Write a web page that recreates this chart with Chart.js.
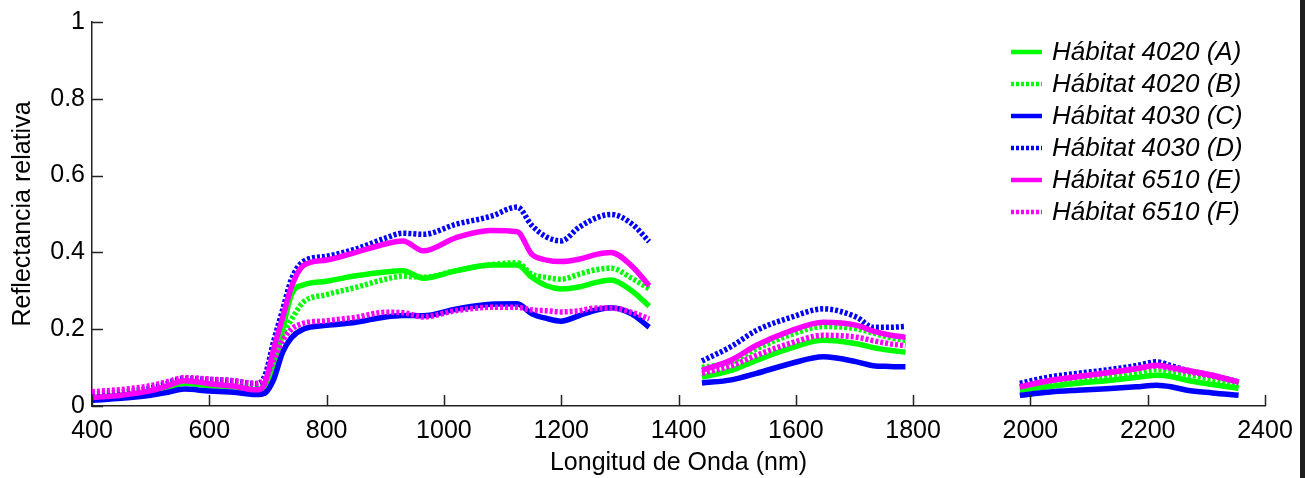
<!DOCTYPE html>
<html lang="es">
<head>
    <meta charset="UTF-8">
    <title>Reflectancia relativa por hábitat</title>
    <script src="https://cdn.jsdelivr.net/npm/chart.js"></script>
    <style>
        * { margin: 0; padding: 0; box-sizing: border-box; }
        body { background: #fff; width: 1305px; height: 478px; overflow: hidden; position: relative; }
        #wrap { position: absolute; left: 0; top: 0; width: 1305px; height: 478px; }
        .edge { position: absolute; left: 1300px; top: 0; width: 5px; height: 478px; background: #1e1e1e; }
    </style>
</head>
<body>
    <div id="wrap"><canvas id="espectro" width="1305" height="478"></canvas></div>
    <div class="edge"></div>

    <script>
        // longitudes de onda (nm); 1400 y 1900 son huecos (bandas de absorción)
        const wavelengths = [400, 450, 500, 530, 557, 600, 640, 680, 695, 710, 725, 740, 760, 800, 850, 900, 930, 965, 1020, 1080, 1125, 1150, 1175, 1200, 1230, 1260, 1285, 1320, 1350,
            1400,
            1440, 1490, 1533, 1590, 1647, 1704, 1732, 1760, 1787,
            1900,
            1982, 2030, 2080, 2130, 2180, 2216, 2240, 2267, 2310, 2355];

        const habitatA = [0.022, 0.028, 0.037, 0.048, 0.059, 0.053, 0.050, 0.042, 0.050, 0.110, 0.200, 0.290, 0.315, 0.325, 0.339, 0.349, 0.352, 0.333, 0.352, 0.367, 0.367, 0.335, 0.313, 0.305, 0.310, 0.322, 0.328, 0.300, 0.260,
            null,
            0.075, 0.093, 0.119, 0.150, 0.171, 0.162, 0.152, 0.145, 0.140,
            null,
            0.041, 0.050, 0.059, 0.066, 0.074, 0.080, 0.077, 0.067, 0.056, 0.046];
        const habitatB = [0.028, 0.034, 0.045, 0.056, 0.066, 0.062, 0.058, 0.052, 0.060, 0.115, 0.185, 0.225, 0.270, 0.290, 0.309, 0.330, 0.338, 0.335, 0.352, 0.368, 0.373, 0.343, 0.335, 0.330, 0.343, 0.355, 0.359, 0.333, 0.305,
            null,
            0.100, 0.115, 0.149, 0.185, 0.207, 0.201, 0.190, 0.178, 0.171,
            null,
            0.047, 0.058, 0.066, 0.075, 0.085, 0.095, 0.090, 0.082, 0.070, 0.057];
        const habitatC = [0.015, 0.020, 0.028, 0.036, 0.044, 0.039, 0.036, 0.030, 0.034, 0.070, 0.140, 0.178, 0.200, 0.210, 0.218, 0.232, 0.236, 0.235, 0.252, 0.265, 0.266, 0.240, 0.228, 0.221, 0.235, 0.250, 0.256, 0.240, 0.205,
            null,
            0.060, 0.068, 0.085, 0.110, 0.128, 0.115, 0.105, 0.103, 0.102,
            null,
            0.028, 0.036, 0.041, 0.045, 0.050, 0.054, 0.050, 0.041, 0.034, 0.028];
        const habitatD = [0.030, 0.037, 0.047, 0.060, 0.072, 0.069, 0.066, 0.058, 0.080, 0.170, 0.250, 0.330, 0.376, 0.390, 0.409, 0.437, 0.450, 0.447, 0.473, 0.494, 0.518, 0.470, 0.440, 0.430, 0.465, 0.490, 0.499, 0.475, 0.428,
            null,
            0.117, 0.155, 0.197, 0.230, 0.253, 0.231, 0.205, 0.205, 0.207,
            null,
            0.059, 0.075, 0.085, 0.094, 0.105, 0.115, 0.105, 0.093, 0.080, 0.063];
        const habitatE = [0.022, 0.028, 0.040, 0.053, 0.066, 0.058, 0.052, 0.042, 0.060, 0.150, 0.230, 0.310, 0.365, 0.380, 0.400, 0.422, 0.430, 0.404, 0.438, 0.457, 0.454, 0.395, 0.380, 0.376, 0.382, 0.395, 0.400, 0.365, 0.313,
            null,
            0.093, 0.120, 0.158, 0.195, 0.218, 0.210, 0.195, 0.185, 0.179,
            null,
            0.050, 0.065, 0.076, 0.086, 0.097, 0.106, 0.100, 0.093, 0.080, 0.063];
        const habitatF = [0.037, 0.043, 0.053, 0.064, 0.074, 0.070, 0.066, 0.059, 0.070, 0.120, 0.170, 0.200, 0.215, 0.222, 0.231, 0.244, 0.243, 0.232, 0.248, 0.257, 0.257, 0.250, 0.248, 0.245, 0.248, 0.255, 0.255, 0.244, 0.227,
            null,
            0.085, 0.105, 0.132, 0.163, 0.184, 0.179, 0.170, 0.162, 0.157,
            null,
            0.050, 0.066, 0.077, 0.087, 0.097, 0.104, 0.098, 0.090, 0.078, 0.062];

        const seriesLabels = ['Hábitat 4020 (A)', 'Hábitat 4020 (B)', 'Hábitat 4030 (C)', 'Hábitat 4030 (D)', 'Hábitat 6510 (E)', 'Hábitat 6510 (F)'];
        const xTicks = [400, 600, 800, 1000, 1200, 1400, 1600, 1800, 2000, 2200, 2400];
        const yTicks = [0, 0.2, 0.4, 0.6, 0.8, 1];

        const FONT = "'Liberation Sans', Arial, sans-serif";
        const AXIS = '#222';
        const colores = ['#00ff00', '#00ff00', '#0000ff', '#0000ff', '#ff00ff', '#ff00ff'];
        const punteado = [false, true, false, true, false, true];
        const DASH = [3, 2];
        const GROSOR = 5.5;

        const allSeries = [habitatA, habitatB, habitatC, habitatD, habitatE, habitatF];
        const datasets = allSeries.map((serie, i) => ({
            label: seriesLabels[i],
            data: wavelengths.map((w, k) => ({ x: w, y: serie[k] })),
            borderColor: colores[i],
            borderWidth: GROSOR,
            borderDash: punteado[i] ? DASH : [],
            borderCapStyle: 'butt',
            pointRadius: 0,
            cubicInterpolationMode: 'monotone',
            spanGaps: false,
            order: 6 - i   // como en MATLAB: la última serie queda encima
        }));

        // marcas de escala hacia dentro y leyenda dentro del área
        const marcasLeyenda = {
            id: 'marcasLeyenda',
            afterDraw(chart) {
                const ctx = chart.ctx;
                const xs = chart.scales.x, ys = chart.scales.y;
                const area = chart.chartArea;
                ctx.save();
                ctx.strokeStyle = AXIS;
                ctx.lineWidth = 1.5;
                ctx.beginPath();
                xTicks.forEach(v => {
                    const px = Math.round(xs.getPixelForValue(v)) + 0.5;
                    ctx.moveTo(px, area.bottom);
                    ctx.lineTo(px, area.bottom - 11);
                });
                yTicks.forEach(v => {
                    const py = Math.round(ys.getPixelForValue(v)) + 0.5;
                    ctx.moveTo(area.left, py);
                    ctx.lineTo(area.left + 11, py);
                });
                ctx.stroke();

                // leyenda
                ctx.font = 'italic 26px ' + FONT;
                ctx.textBaseline = 'middle';
                ctx.textAlign = 'left';
                chart.data.datasets.forEach((ds, i) => {
                    const y = 52 + i * 32;
                    ctx.beginPath();
                    ctx.strokeStyle = ds.borderColor;
                    ctx.lineWidth = 4.5;
                    ctx.lineCap = 'butt';
                    ctx.setLineDash(ds.borderDash);
                    ctx.moveTo(1011, y);
                    ctx.lineTo(1042, y);
                    ctx.stroke();
                    ctx.setLineDash([]);
                    ctx.fillStyle = '#000';
                    ctx.fillText(ds.label, 1052, y + 1);
                });
                ctx.restore();
            }
        };

        new Chart(document.getElementById('espectro'), {
            type: 'line',
            data: { datasets: datasets },
            plugins: [marcasLeyenda],
            options: {
                responsive: false,
                animation: false,
                layout: { padding: { left: 0, top: 19, right: 40, bottom: 0 } },
                plugins: {
                    legend: { display: false },
                    tooltip: { enabled: false }
                },
                scales: {
                    x: {
                        type: 'linear',
                        min: 400,
                        max: 2400,
                        afterBuildTicks: s => { s.ticks = xTicks.map(v => ({ value: v })); },
                        afterFit: s => { s.height = 72; },
                        ticks: {
                            color: '#000',
                            font: { family: FONT, size: 25 },
                            padding: 10,
                            maxRotation: 0,
                            callback: v => String(v)
                        },
                        grid: { drawOnChartArea: false, drawTicks: false },
                        border: { display: true, color: AXIS, width: 1.5 },
                        title: {
                            display: true,
                            text: 'Longitud de Onda (nm)',
                            color: '#000',
                            font: { family: FONT, size: 25 },
                            padding: { top: 0, bottom: 0 }
                        }
                    },
                    y: {
                        min: 0,
                        max: 1,
                        afterBuildTicks: s => { s.ticks = yTicks.map(v => ({ value: v })); },
                        afterFit: s => { s.width = 92; },
                        ticks: {
                            color: '#000',
                            font: { family: FONT, size: 25 },
                            padding: 7,
                            callback: v => String(v)
                        },
                        grid: { drawOnChartArea: false, drawTicks: false },
                        border: { display: true, color: AXIS, width: 1.5 },
                        title: {
                            display: true,
                            text: 'Reflectancia relativa',
                            color: '#000',
                            font: { family: FONT, size: 25 },
                            padding: { top: 8, bottom: 0 }
                        }
                    }
                }
            }
        });
    </script>
</body>
</html>
